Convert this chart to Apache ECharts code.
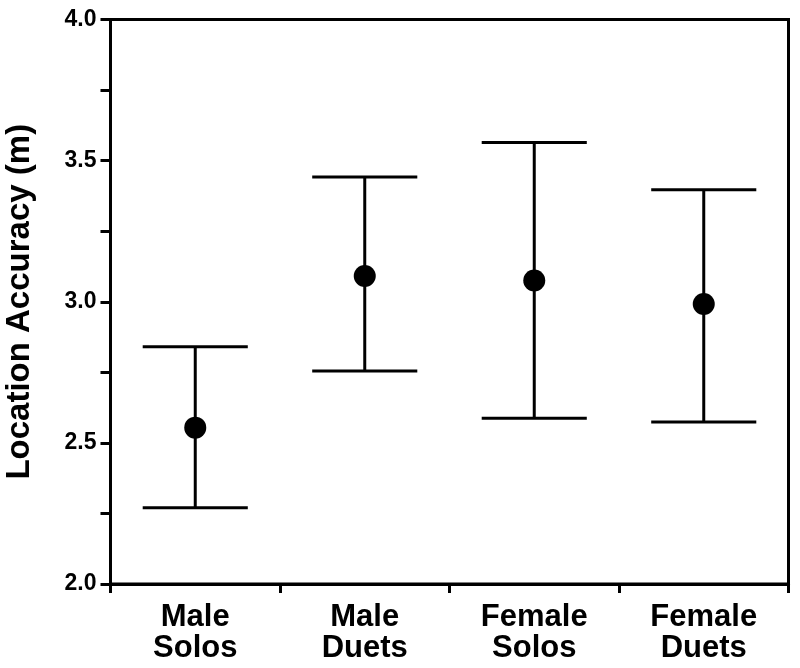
<!DOCTYPE html>
<html>
<head>
<meta charset="utf-8">
<script src="https://cdn.jsdelivr.net/npm/echarts@6/dist/echarts.min.js"></script>
<style>
html,body{margin:0;padding:0;background:#fff;}
#chart{width:800px;height:668px;}
</style>
</head>
<body>
<div id="chart"></div>
<script>
const categories = ['Male\nSolos', 'Male\nDuets', 'Female\nSolos', 'Female\nDuets'];
const means = [2.554, 3.091, 3.075, 2.992];
const upper = [2.841, 3.442, 3.564, 3.397];
const lower = [2.270, 2.755, 2.587, 2.574];
const yTickLabels = ['2.0', '2.5', '3.0', '3.5', '4.0'];
const yTitle = 'Location Accuracy (m)';

const FONT = 'Liberation Sans, Arial, sans-serif';
const chart = echarts.init(document.getElementById('chart'));

const errData = categories.map((c, i) => [i, lower[i], upper[i]]);

chart.setOption({
  animation: false,
  backgroundColor: '#fff',
  grid: { left: 110.5, right: 11.5, top: 19.5, bottom: 84, show: true, borderColor: '#000', borderWidth: 3, backgroundColor: 'transparent', containLabel: false, outerBoundsMode: 'none' },
  xAxis: {
    type: 'category',
    data: categories,
    boundaryGap: true,
    axisLine: { lineStyle: { color: '#000', width: 3 } },
    axisTick: { show: true, length: 9, lineStyle: { color: '#000', width: 3 } },
    axisLabel: { color: '#000', fontFamily: FONT, fontWeight: 'bold', fontSize: 31, lineHeight: 31, margin: 18 },
    splitLine: { show: false }
  },
  yAxis: {
    type: 'value',
    min: 2.0, max: 4.0, interval: 0.25,
    name: yTitle,
    nameLocation: 'middle',
    nameGap: 74,
    nameTextStyle: { color: '#000', fontFamily: FONT, fontWeight: 'bold', fontSize: 33 },
    axisLine: { show: true, lineStyle: { color: '#000', width: 3 } },
    axisTick: { show: true, length: 10, lineStyle: { color: '#000', width: 3 } },
    axisLabel: {
      color: '#000', fontFamily: FONT, fontWeight: 'bold', fontSize: 23, margin: 14,
      formatter: function (v) {
        const s = v.toFixed(1);
        return (Math.abs(v * 2 - Math.round(v * 2)) < 1e-6 && yTickLabels.indexOf(s) >= 0) ? s : '';
      }
    },
    splitLine: { show: false }
  },
  series: [
    {
      type: 'custom',
      data: errData,
      z: 2,
      renderItem: function (params, api) {
        const x = api.value(0);
        const lo = api.coord([x, api.value(1)]);
        const hi = api.coord([x, api.value(2)]);
        const half = api.size([1, 0])[0] * 0.31;
        const style = { stroke: '#000', lineWidth: 3, fill: null };
        return {
          type: 'group',
          children: [
            { type: 'line', shape: { x1: lo[0], y1: lo[1], x2: hi[0], y2: hi[1] }, style: style },
            { type: 'line', shape: { x1: hi[0] - half, y1: hi[1], x2: hi[0] + half, y2: hi[1] }, style: style },
            { type: 'line', shape: { x1: lo[0] - half, y1: lo[1], x2: lo[0] + half, y2: lo[1] }, style: style }
          ]
        };
      }
    },
    {
      type: 'scatter',
      data: means.map((m, i) => [i, m]),
      symbol: 'circle',
      symbolSize: 22,
      z: 3,
      itemStyle: { color: '#000', opacity: 1 }
    }
  ]
});
</script>
</body>
</html>
